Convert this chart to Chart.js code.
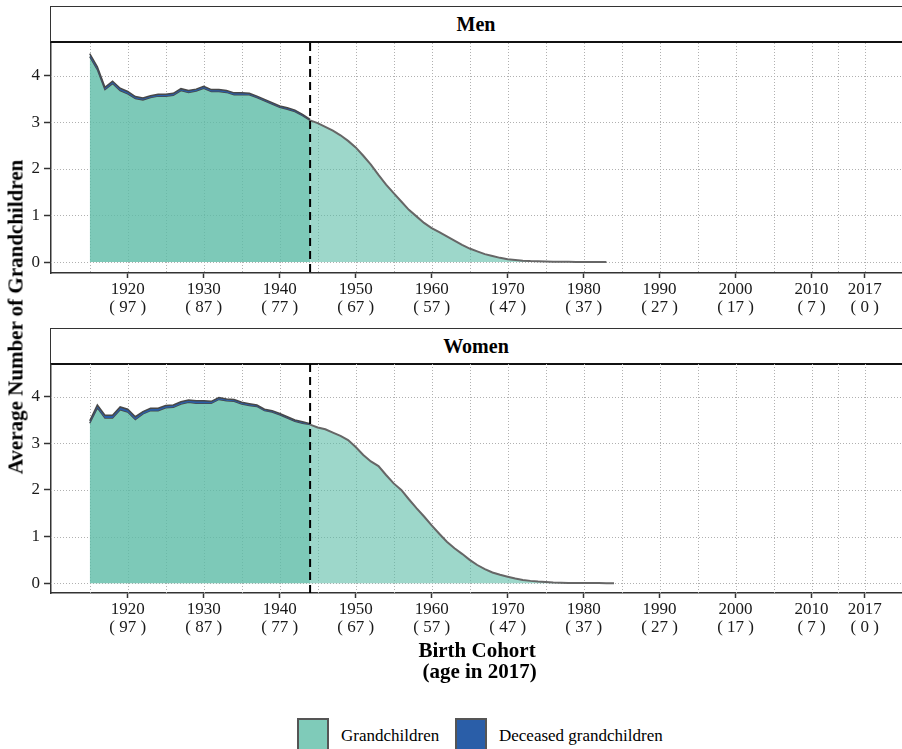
<!DOCTYPE html>
<html>
<head>
<meta charset="utf-8">
<script src="https://cdn.jsdelivr.net/npm/chart.js@4.4.1/dist/chart.umd.min.js"></script>
<style>
  body { margin: 0; width: 902px; height: 749px; overflow: hidden; background: #fff; position: relative;
         font-family: "Liberation Serif", "DejaVu Serif", serif; color: #000; }
  .strip { position: absolute; left: 50px; width: 870px; height: 37px; box-sizing: border-box;
           border: 1px solid #333; border-bottom: 2px solid #111; background: #fff;
           display: flex; align-items: center; justify-content: center; padding-left: 0;
           font-weight: bold; font-size: 20px; }
  .strip span { position: relative; left: -9px; }
  .panel { position: absolute; left: 0; width: 902px; }
  .ytitle { position: absolute; left: 16px; top: 317px; transform: translate(-50%, -50%) rotate(-90deg);
            font-weight: bold; font-size: 21px; line-height: 21px; white-space: nowrap; }
  .xtitle { position: absolute; left: 0; width: 954px; top: 640px; text-align: center;
            font-weight: bold; font-size: 21px; line-height: 21px; white-space: pre; }
  .key { position: absolute; top: 718px; width: 32px; height: 34px; box-sizing: border-box; border: 2px solid #555; }
  .ktext { position: absolute; top: 727px; font-size: 17px; line-height: 17px; white-space: nowrap; }
</style>
</head>
<body>
<div class="strip" style="top:6px"><span>Men</span></div>
<div class="strip" style="top:328px"><span>Women</span></div>
<div class="panel" style="top:43px"><canvas id="men" width="902" height="280"></canvas></div>
<div class="panel" style="top:364px"><canvas id="women" width="902" height="279"></canvas></div>
<div class="ytitle">Average Number of Grandchildren</div>
<div class="xtitle">Birth Cohort
 (age in 2017)</div>
<div class="key" style="left:297px;background:#7fcbb9"></div>
<div class="ktext" style="left:341px">Grandchildren</div>
<div class="key" style="left:455px;background:#2a5ea8"></div>
<div class="ktext" style="left:499px">Deceased grandchildren</div>

<script>
// birth cohorts 1915-1984; data up to 1944 is drawn solid, later cohorts lighter
const COHORTS = [1915,1916,1917,1918,1919,1920,1921,1922,1923,1924,1925,1926,1927,1928,1929,
  1930,1931,1932,1933,1934,1935,1936,1937,1938,1939,1940,1941,1942,1943,1944,
  1945,1946,1947,1948,1949,1950,1951,1952,1953,1954,1955,1956,1957,1958,1959,
  1960,1961,1962,1963,1964,1965,1966,1967,1968,1969,1970,1971,1972,1973,1974,
  1975,1976,1977,1978,1979,1980,1981,1982,1983,1984];
const CUTOFF = 1944;

const MEN_GRANDCHILDREN = [4.41,4.13,3.70,3.83,3.68,3.61,3.51,3.48,3.53,3.56,3.56,3.58,3.68,3.64,3.67,
  3.73,3.66,3.66,3.64,3.59,3.59,3.59,3.53,3.46,3.39,3.32,3.28,3.23,3.14,3.04,
  2.98,2.90,2.82,2.72,2.60,2.46,2.28,2.09,1.87,1.66,1.48,1.30,1.12,0.98,0.84,
  0.73,0.64,0.55,0.46,0.37,0.29,0.23,0.17,0.13,0.09,0.06,0.045,0.03,0.02,0.015,
  0.01,0.008,0.006,0.004,0.003,0.002,0.001,0.001,0];
const MEN_DECEASED = [0.06,0.06,0.05,0.05,0.05,0.05,0.04,0.04,0.04,0.04,0.04,0.04,0.04,0.04,0.04,
  0.04,0.04,0.04,0.04,0.04,0.04,0.03,0.03,0.03,0.03,0.03,0.03,0.03,0.03,0.02];

const WOMEN_GRANDCHILDREN = [3.43,3.76,3.54,3.54,3.72,3.67,3.51,3.63,3.70,3.70,3.76,3.77,3.84,3.88,3.86,
  3.86,3.86,3.94,3.91,3.90,3.84,3.81,3.79,3.70,3.67,3.61,3.54,3.47,3.43,3.40,
  3.34,3.30,3.23,3.16,3.07,2.92,2.75,2.61,2.51,2.32,2.14,2.00,1.80,1.61,1.43,
  1.24,1.06,0.89,0.75,0.63,0.50,0.39,0.30,0.23,0.18,0.14,0.10,0.07,0.05,0.035,
  0.025,0.015,0.01,0.007,0.005,0.004,0.003,0.002,0.001,0];
const WOMEN_DECEASED = [0.05,0.06,0.06,0.06,0.06,0.06,0.06,0.05,0.05,0.05,0.05,0.05,0.05,0.05,0.05,
  0.05,0.04,0.04,0.04,0.04,0.04,0.04,0.03,0.03,0.03,0.03,0.03,0.03,0.03,0.02];

const TICK_YEARS = [1920,1930,1940,1950,1960,1970,1980,1990,2000,2010,2017];
const TICK_AGES = ["( 97 )","( 87 )","( 77 )","( 67 )","( 57 )","( 47 )","( 37 )","( 27 )","( 17 )","( 7 )","( 0 )"];
const GRID_YEARS = [1915,1920,1925,1930,1935,1940,1945,1950,1955,1960,1965,1970,1975,1980,1985,1990,1995,2000,2005,2010,2013.5,2017];
const Y_TICKS = [0,1,2,3,4];

var FONT = "'Liberation Serif', 'DejaVu Serif', serif";

// dotted background grid + dashed cutoff marker
var panelDecor = {
  id: "panelDecor",
  beforeDatasetsDraw: function (chart) {
    var a = chart.chartArea, ctx = chart.ctx, sx = chart.scales.x, sy = chart.scales.y;
    ctx.save();
    ctx.strokeStyle = "#b0b0b0"; ctx.lineWidth = 1; ctx.setLineDash([1, 2]);
    GRID_YEARS.forEach(function (yr) {
      var x = Math.round(sx.getPixelForValue(yr)) + 0.5;
      ctx.beginPath(); ctx.moveTo(x, a.top); ctx.lineTo(x, a.bottom); ctx.stroke();
    });
    Y_TICKS.forEach(function (v) {
      var y = Math.round(sy.getPixelForValue(v)) + 0.5;
      ctx.beginPath(); ctx.moveTo(a.left, y); ctx.lineTo(a.right, y); ctx.stroke();
    });
    ctx.restore();
  },
  afterDatasetsDraw: function (chart) {
    var a = chart.chartArea, ctx = chart.ctx;
    var x = chart.scales.x.getPixelForValue(CUTOFF);
    ctx.save();
    ctx.strokeStyle = "#000"; ctx.lineWidth = 2; ctx.setLineDash([8, 5]);
    ctx.beginPath(); ctx.moveTo(x, a.top); ctx.lineTo(x, a.bottom); ctx.stroke();
    ctx.restore();
  }
};

function makePanel(id, grand, deceased, yMin) {
  var cut = COHORTS.indexOf(CUTOFF);
  var early = [], top = [], late = [];
  grand.forEach(function (v, i) {
    if (i <= cut) {
      early.push({ x: COHORTS[i], y: v });
      top.push({ x: COHORTS[i], y: v + deceased[i] });
    }
    if (i >= cut) late.push({ x: COHORTS[i], y: v });
  });

  return new Chart(document.getElementById(id), {
    type: "line",
    data: {
      datasets: [
        { data: top, fill: 1, backgroundColor: "#2a5ea8", borderColor: "#484848", borderWidth: 1.5, pointRadius: 0, tension: 0 },
        { data: early, fill: "origin", backgroundColor: "rgba(92,188,166,0.8)", borderColor: "#484848", borderWidth: 1.5, pointRadius: 0, tension: 0 },
        { data: late, fill: "origin", backgroundColor: "rgba(92,188,166,0.6)", borderColor: "#666", borderWidth: 2, pointRadius: 0, tension: 0 }
      ]
    },
    options: {
      responsive: false, animation: false, maintainAspectRatio: false,
      layout: { padding: 0 },
      plugins: { legend: { display: false }, tooltip: { enabled: false } },
      scales: {
        x: {
          type: "linear", min: 1909.9, max: 2021.9,
          afterBuildTicks: function (s) { s.ticks = TICK_YEARS.map(function (v) { return { value: v }; }); },
          afterFit: function (s) { s.height = 50; s.paddingLeft = 0; s.paddingRight = 0; },
          ticks: {
            autoSkip: false, maxRotation: 0, padding: 2, color: "#1a1a1a",
            font: { family: FONT, size: 17, lineHeight: 1.08 },
            callback: function (v) { var k = TICK_YEARS.indexOf(v); return [String(v), TICK_AGES[k]]; }
          },
          grid: { drawOnChartArea: false, tickLength: 5, color: "#333", tickWidth: 1.5 },
          border: { color: "#333", width: 1.5 }
        },
        y: {
          min: yMin, max: 4.70,
          afterBuildTicks: function (s) { s.ticks = Y_TICKS.map(function (v) { return { value: v }; }); },
          afterFit: function (s) { s.width = 51; s.paddingTop = 0; s.paddingBottom = 0; },
          ticks: { padding: 4, color: "#1a1a1a", font: { family: FONT, size: 17 } },
          grid: { drawOnChartArea: false, tickLength: 7, color: "#333", tickWidth: 1.5 },
          border: { color: "#333", width: 1.5 }
        }
      }
    },
    plugins: [panelDecor]
  });
}

makePanel("men", MEN_GRANDCHILDREN, MEN_DECEASED, -0.235);
makePanel("women", WOMEN_GRANDCHILDREN, WOMEN_DECEASED, -0.21);
</script>
</body>
</html>
